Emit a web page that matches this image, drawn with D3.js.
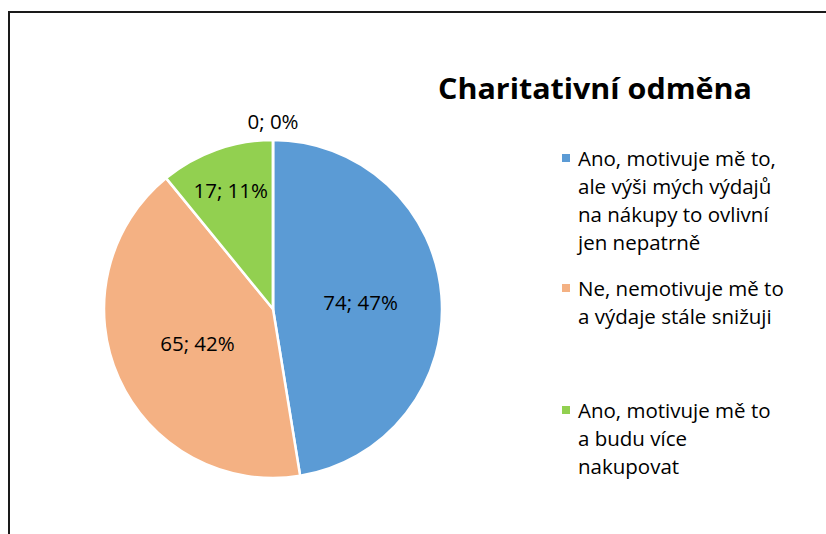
<!DOCTYPE html>
<html>
<head>
<meta charset="utf-8">
<script src="https://cdn.jsdelivr.net/npm/d3@7"></script>
<style>
  body { margin: 0; background: #fff; }
  text { font-family: "Open Sans", Lato, sans-serif; fill: #000; }
</style>
</head>
<body>
<div id="chart-area"></div>
<script>
// Data
var categories = [
  "Ano, motivuje mě to, ale výši mých výdajů na nákupy to ovlivní jen nepatrně",
  "Ne, nemotivuje mě to a výdaje stále snižuji",
  "Ano, motivuje mě to a budu více nakupovat",
  ""
];
var values = [74, 65, 17, 0];
var legendLines = [
  ["Ano, motivuje mě to,", "ale výši mých výdajů", "na nákupy to ovlivní", "jen nepatrně"],
  ["Ne, nemotivuje mě to", "a výdaje stále snižuji"],
  ["Ano, motivuje mě to", "a budu více", "nakupovat"]
];
var colors = ["#5B9BD5", "#F4B183", "#92D050", "#A5A5A5"];

var width = 826, height = 534;

var svg = d3.select("#chart-area")
  .append("svg")
    .attr("width", width)
    .attr("height", height);

// Chart frame (right and bottom edges run off the picture)
svg.append("rect")
  .attr("x", 9)
  .attr("y", 12)
  .attr("width", 840)
  .attr("height", 560)
  .attr("fill", "none")
  .attr("stroke", "#1a1a1a")
  .attr("stroke-width", 2);

// Title
svg.append("text")
  .attr("x", 595)
  .attr("y", 99)
  .attr("text-anchor", "middle")
  .attr("font-size", "28px")
  .attr("font-weight", "bold")
  .attr("textLength", 314)
  .attr("lengthAdjust", "spacingAndGlyphs")
  .text("Charitativní odměna");

// Pie
var cx = 273, cy = 309, radius = 169;
var total = d3.sum(values);

var pie = d3.pie().sort(null).value(function(d) { return d; });
var arcs = pie(values);
var arc = d3.arc().innerRadius(0).outerRadius(radius);

var g = svg.append("g")
  .attr("transform", "translate(" + cx + "," + cy + ")");

g.selectAll("path")
  .data(arcs)
  .enter()
  .append("path")
    .attr("d", arc)
    .attr("fill", function(d, i) { return colors[i]; })
    .attr("stroke", "#fff")
    .attr("stroke-width", 2.5)
    .attr("stroke-linejoin", "round");

// Data labels (value; percent), placed along each slice's mid angle
var labelFactor = [0.52, 0.49, 0.745, 1.11];

g.selectAll(".label")
  .data(arcs)
  .enter()
  .append("text")
    .attr("class", "label")
    .attr("text-anchor", "middle")
    .attr("dominant-baseline", "central")
    .attr("font-size", "20.5px")
    .attr("transform", function(d, i) {
      var a = (d.startAngle + d.endAngle) / 2;
      var r = radius * labelFactor[i];
      return "translate(" + (Math.sin(a) * r) + "," + (-Math.cos(a) * r) + ")";
    })
    .text(function(d) {
      return d.value + "; " + Math.round(d.value / total * 100) + "%";
    });

// Legend
var legendX = 562, legendTop = [158, 288, 410], lineH = 28;

var legend = svg.selectAll(".legend")
  .data(legendLines)
  .enter()
  .append("g")
    .attr("class", "legend")
    .attr("transform", function(d, i) { return "translate(" + legendX + "," + legendTop[i] + ")"; });

legend.append("rect")
  .attr("x", 0)
  .attr("y", -4)
  .attr("width", 8)
  .attr("height", 8)
  .attr("fill", function(d, i) { return colors[i]; });

legend.each(function(lines) {
  var t = d3.select(this).append("text")
    .attr("font-size", "20.5px")
    .attr("dominant-baseline", "central");
  t.selectAll("tspan")
    .data(lines)
    .enter()
    .append("tspan")
      .attr("x", 16)
      .attr("y", function(d, j) { return j * lineH; })
      .text(function(d) { return d; });
});
</script>
</body>
</html>
